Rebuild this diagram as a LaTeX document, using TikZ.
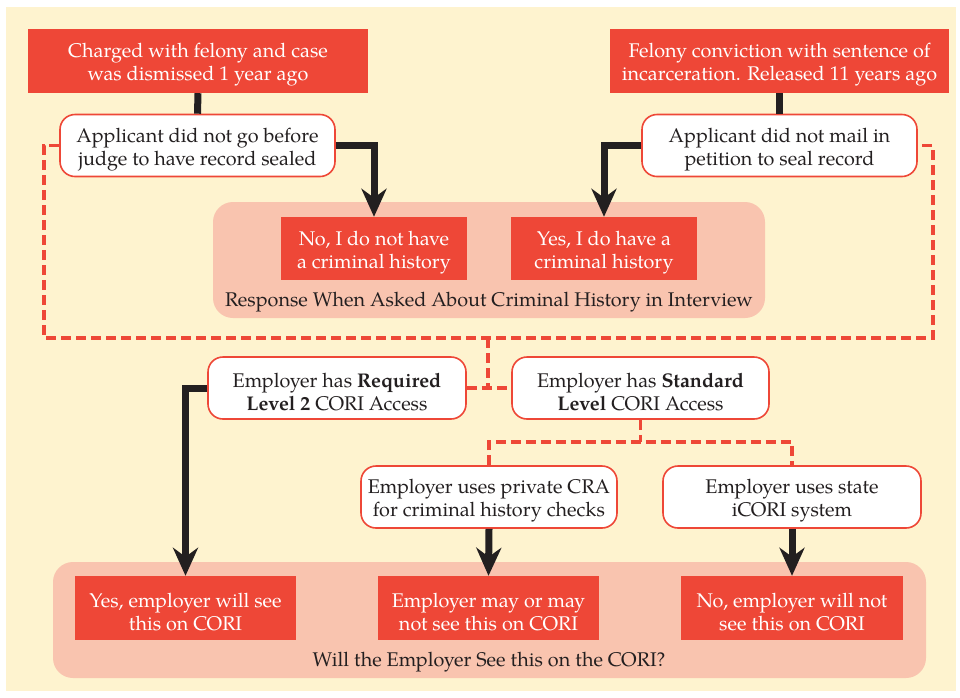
\documentclass[tikz,border=0pt]{standalone}
\usepackage{fontspec}
\setmainfont{TeX Gyre Pagella}
\usetikzlibrary{arrows.meta}
\definecolor{cream}{RGB}{254,243,207}
\definecolor{cred}{RGB}{238,71,55}
\definecolor{cpink}{RGB}{249,196,175}
\definecolor{cdark}{RGB}{35,31,32}
\newcommand{\Tstr}{\rule{0pt}{22pt}}
\tikzset{
  every node/.style={font=\fontsize{19.8}{23}\selectfont, align=center, inner sep=0pt},
  redbox/.style={fill=cred, text=white, minimum width=#1, minimum height=64pt},
  qbox/.style={draw=cred, line width=1.6pt, fill=white, text=cdark, rounded corners=15pt, minimum width=#1, minimum height=62pt},
  groupbox/.style={fill=cpink, rounded corners=20pt, minimum width=#1, minimum height=116pt},
  lbl/.style={text=cdark},
  arr/.style={draw=cdark, line width=7pt, -{Stealth[length=28pt,width=25pt,inset=9pt]}},
  blk/.style={draw=cdark, line width=7pt},
  dsh/.style={draw=cred, line width=3.2pt, dash pattern=on 10pt off 5pt},
}
\begin{document}
\begin{tikzpicture}[x=1pt,y=-1pt]
\useasboundingbox (0,0) rectangle (960,697);
\fill[white] (0,0) rectangle (960,697);
\fill[cream] (6,7) rectangle (956,691);
% groups
\node[groupbox=552pt] (resp) at (489,260) {};
\node[groupbox=873pt] (will) at (489.5,620) {};
\node[lbl] (resplbl) at (489,302) {Response When Asked About Criminal History in Interview};
\node[lbl] (willlbl) at (489,662) {Will the Employer See this on the CORI?};
% top boxes
\node[redbox=340pt] (tl) at (198,61) {\Tstr Charged with felony and case\\was dismissed 1 year ago};
\node[redbox=339pt] (tr) at (779.5,61) {\Tstr Felony conviction with sentence of\\incarceration. Released 11 years ago};
\node[qbox=275pt] (b1) at (197.5,145.5) {\Tstr Applicant did not go before\\judge to have record sealed};
\node[qbox=275pt] (b2) at (779.5,145.5) {\Tstr Applicant did not mail in\\petition to seal record};
\node[redbox=186pt, minimum height=63pt] (no) at (374,248.5) {\Tstr No, I do not have\\a criminal history};
\node[redbox=186pt, minimum height=63pt] (yes) at (604,248.5) {\Tstr Yes, I do have a\\criminal history};
% middle
\node[qbox=258pt] (req) at (337,388) {\Tstr Employer has \textbf{Required}\\\textbf{Level 2} CORI Access};
\node[qbox=257pt] (std) at (640.5,388) {\Tstr Employer has \textbf{Standard}\\\textbf{Level} CORI Access};
\node[qbox=256pt] (cra) at (489,497) {\Tstr Employer uses private CRA\\for criminal history checks};
\node[qbox=258pt] (icori) at (792,497) {\Tstr Employer uses state\\iCORI system};
% results
\node[redbox=221pt] (r1) at (185.5,608) {\Tstr Yes, employer will see\\this on CORI};
\node[redbox=221pt] (r2) at (488.5,608) {\Tstr Employer may or may\\not see this on CORI};
\node[redbox=222pt] (r3) at (792,608) {\Tstr No, employer will not\\see this on CORI};
% black connectors
\draw[blk] (tl.south) -- (b1.north);
\draw[blk] (tr.south) -- (b2.north);
\draw[arr] (b1.east) -| (no.north);
\draw[arr] (b2.west) -| (yes.north);
\draw[arr] (req.west) -| (r1.north);
\draw[arr] (cra.south) -- (r2.north);
\draw[arr] (icori.south) -- (r3.north);
% dashed connectors
\coordinate (dl) at (44,338);
\coordinate (dr) at (933,338);
\coordinate (dm) at (488,338);
\draw[dsh] (b1.west) -| (dl) -- (dr) |- (b2.east);
\draw[dsh] (req.east) -- (std.west);
\draw[dsh] (dm) -- (dm |- req.east);
\coordinate (s) at (640.5,442);
\draw[dsh] (std.south) -- (s);
\draw[dsh] (cra.north) -- (cra.north |- s) -- (icori.north |- s) -- (icori.north);
\end{tikzpicture}
\end{document}
